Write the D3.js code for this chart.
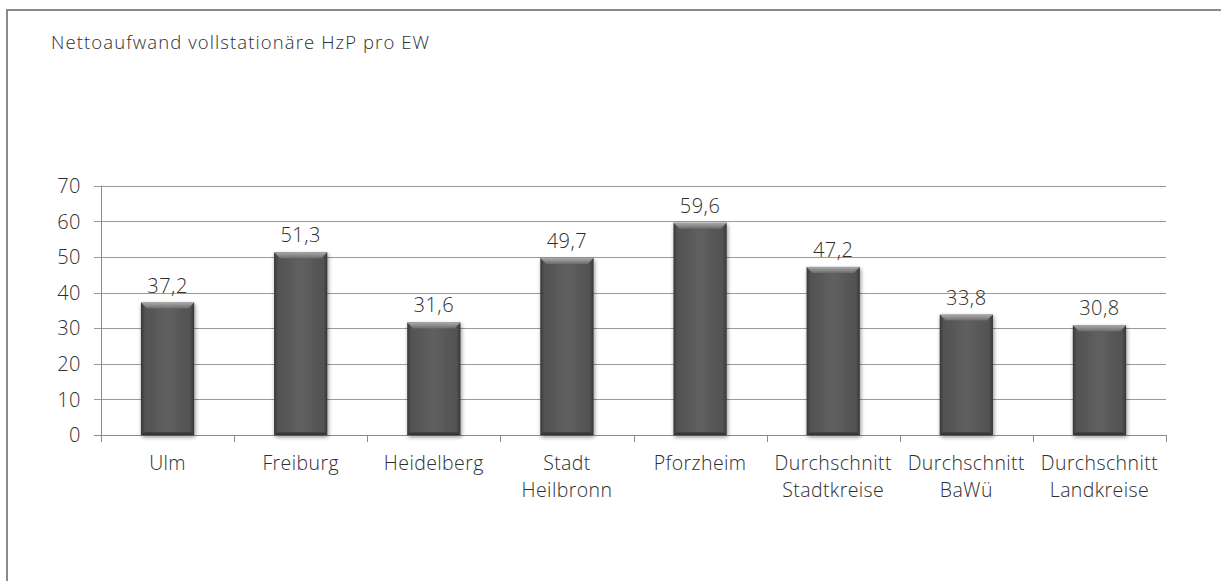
<!DOCTYPE html>
<html>
<head>
<meta charset="utf-8">
<script src="https://cdn.jsdelivr.net/npm/d3@7"></script>
<style>
  html, body { margin: 0; padding: 0; background: #fff; }
  svg { display: block; }
  text { font-family: "Open Sans", "Segoe UI", "DejaVu Sans", sans-serif; font-weight: 300; fill: #2e2e2e; }
</style>
</head>
<body>
<svg id="chart" width="1221" height="581"></svg>
<script>
// Nettoaufwand vollstationäre HzP pro Einwohner
const categories = [
  ["Ulm"],
  ["Freiburg"],
  ["Heidelberg"],
  ["Stadt", "Heilbronn"],
  ["Pforzheim"],
  ["Durchschnitt", "Stadtkreise"],
  ["Durchschnitt", "BaWü"],
  ["Durchschnitt", "Landkreise"]
];
const values = [37.2, 51.3, 31.6, 49.7, 59.6, 47.2, 33.8, 30.8];
const yTicks = [0, 10, 20, 30, 40, 50, 60, 70];
const title = "Nettoaufwand vollstationäre HzP pro EW";

const svg = d3.select("#chart");
const W = 1221, H = 581;
const plot = { left: 101, right: 1166, top: 185.7, bottom: 435 };
const fs = 20;

// outer frame (only top and left edges fall inside the view)
svg.append("rect")
  .attr("x", 7).attr("y", 10)
  .attr("width", W + 20).attr("height", H + 20)
  .attr("fill", "none").attr("stroke", "#8a8a8a").attr("stroke-width", 2);

svg.append("text")
  .attr("x", 51).attr("y", 49)
  .attr("font-size", 18.5)
  .attr("letter-spacing", 1.1)
  .text(title);

const keys = categories.map(c => c.join(" "));
const x = d3.scaleBand().domain(keys)
  .range([plot.left, plot.right])
  .paddingInner(0.6).paddingOuter(0.3);
const y = d3.scaleLinear().domain([0, 70]).range([plot.bottom, plot.top]);

// defs: bar gradients and shadow
const defs = svg.append("defs");
const gBody = defs.append("linearGradient").attr("id", "barBody")
  .attr("x1", 0).attr("x2", 1).attr("y1", 0).attr("y2", 0);
[[0, "#383838"], [0.07, "#525252"], [0.5, "#606060"], [0.93, "#525252"], [1, "#363636"]]
  .forEach(([o, c]) => gBody.append("stop").attr("offset", o).attr("stop-color", c));
const gTop = defs.append("linearGradient").attr("id", "barTop")
  .attr("x1", 0).attr("x2", 0).attr("y1", 0).attr("y2", 1);
[[0, "#aaaaaa"], [1, "#6c6c6c"]]
  .forEach(([o, c]) => gTop.append("stop").attr("offset", o).attr("stop-color", c));
const gBot = defs.append("linearGradient").attr("id", "barBot")
  .attr("x1", 0).attr("x2", 0).attr("y1", 0).attr("y2", 1);
[[0, "#474747"], [1, "#2c2c2c"]]
  .forEach(([o, c]) => gBot.append("stop").attr("offset", o).attr("stop-color", c));
const shadow = defs.append("filter").attr("id", "shadow")
  .attr("x", "-20%").attr("y", "-10%").attr("width", "140%").attr("height", "130%");
shadow.append("feGaussianBlur").attr("in", "SourceAlpha").attr("stdDeviation", 2).attr("result", "b");
shadow.append("feOffset").attr("in", "b").attr("dx", 1).attr("dy", 2).attr("result", "o");
shadow.append("feComponentTransfer").attr("in", "o").attr("result", "s")
  .append("feFuncA").attr("type", "linear").attr("slope", 0.45);
const merge = shadow.append("feMerge");
merge.append("feMergeNode").attr("in", "s");
merge.append("feMergeNode").attr("in", "SourceGraphic");

// gridlines with left tick marks
svg.append("g").selectAll("line").data(yTicks).join("line")
  .attr("x1", plot.left - 7).attr("x2", plot.right)
  .attr("y1", d => Math.round(y(d)) + 0.5).attr("y2", d => Math.round(y(d)) + 0.5)
  .attr("stroke", d => d === 0 ? "#8a8a8a" : "#9a9a9a").attr("stroke-width", 1);

// y axis line
svg.append("line")
  .attr("x1", plot.left + 0.5).attr("x2", plot.left + 0.5)
  .attr("y1", y(70)).attr("y2", y(0))
  .attr("stroke", "#8a8a8a");

// category tick marks at band boundaries
const step = x.step();
const bounds = d3.range(keys.length + 1).map(i => plot.left + i * step);
svg.append("g").selectAll("line").data(bounds).join("line")
  .attr("x1", d => Math.round(d) + 0.5).attr("x2", d => Math.round(d) + 0.5)
  .attr("y1", y(0)).attr("y2", y(0) + 7)
  .attr("stroke", "#8a8a8a");

// y tick labels
svg.append("g").selectAll("text").data(yTicks).join("text")
  .attr("x", 81).attr("y", d => y(d))
  .attr("dy", "0.36em")
  .attr("text-anchor", "end")
  .attr("font-size", fs)
  .attr("letter-spacing", 0.5)
  .text(d => d);

// bars
const bars = svg.append("g").selectAll("g").data(values).join("g")
  .attr("filter", "url(#shadow)");
const bev = 6;
bars.each(function (v, i) {
  const g = d3.select(this);
  const x0 = x(keys[i]), w = x.bandwidth();
  const y0 = y(v), y1 = y(0);
  g.append("rect").attr("x", x0).attr("y", y0).attr("width", w).attr("height", y1 - y0)
    .attr("fill", "url(#barBody)");
  // top bevel
  g.append("path")
    .attr("d", `M${x0},${y0} L${x0 + w},${y0} L${x0 + w - bev},${y0 + bev} L${x0 + bev},${y0 + bev} Z`)
    .attr("fill", "url(#barTop)");
  // bottom bevel
  g.append("path")
    .attr("d", `M${x0},${y1} L${x0 + w},${y1} L${x0 + w - 3},${y1 - 3} L${x0 + 3},${y1 - 3} Z`)
    .attr("fill", "url(#barBot)");
});

// value labels
const fmt = d3.formatLocale({ decimal: ",", thousands: ".", grouping: [3], currency: ["", " €"] }).format(".1f");
svg.append("g").selectAll("text").data(values).join("text")
  .attr("x", (d, i) => x(keys[i]) + x.bandwidth() / 2)
  .attr("y", d => y(d) - 10)
  .attr("text-anchor", "middle")
  .attr("font-size", fs)
  .attr("letter-spacing", 0.5)
  .text(d => fmt(d));

// category labels, one text element per line
const catLines = categories.flatMap((lines, i) => lines.map((l, j) => ({ l, i, j })));
svg.append("g").selectAll("text").data(catLines).join("text")
  .attr("x", d => x(keys[d.i]) + x.bandwidth() / 2)
  .attr("y", d => 470 + d.j * 27)
  .attr("text-anchor", "middle")
  .attr("font-size", 19.5)
  .attr("letter-spacing", 0.4)
  .text(d => d.l);
</script>
</body>
</html>
